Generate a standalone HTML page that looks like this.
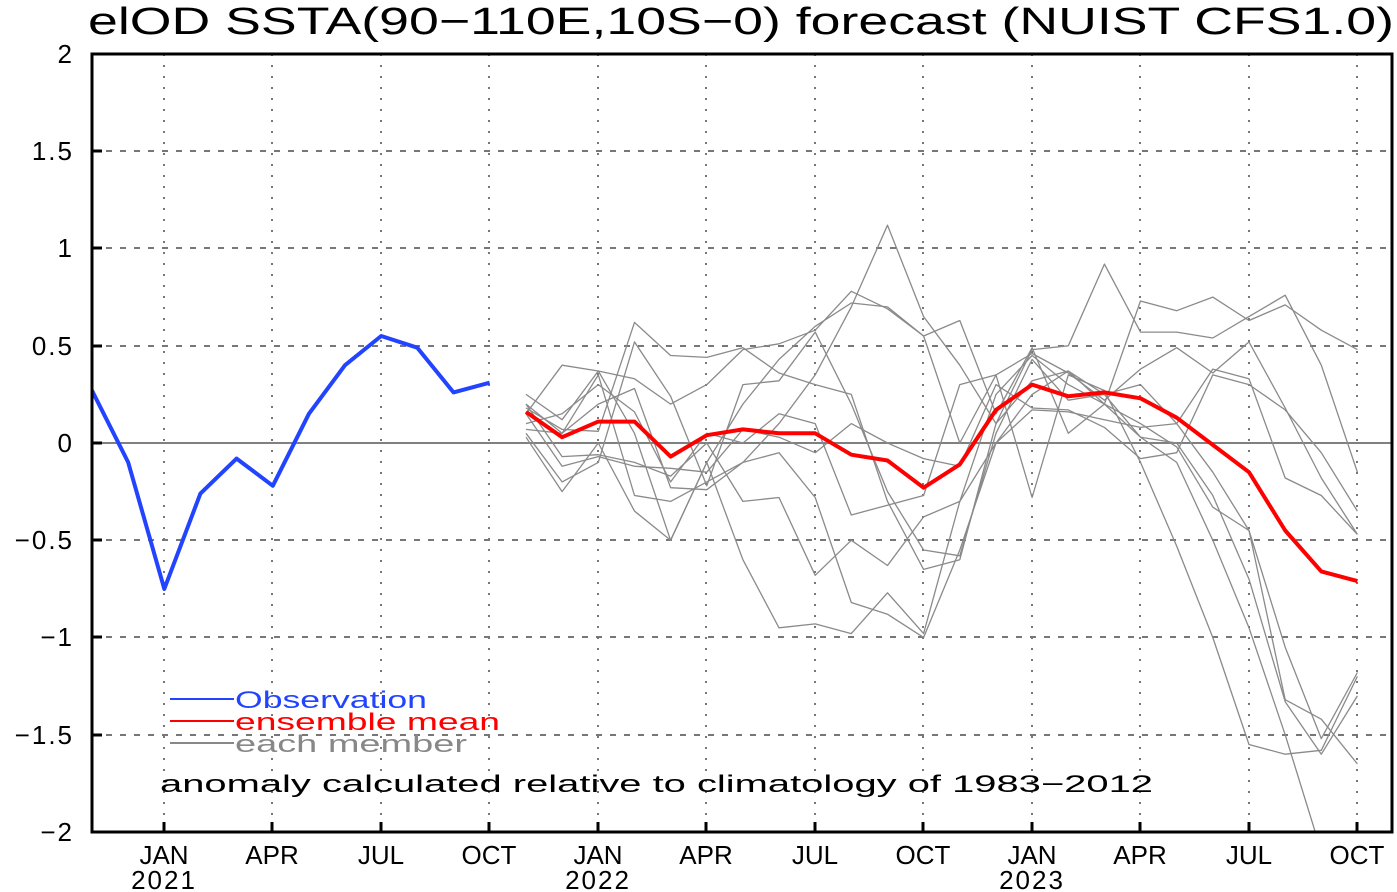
<!DOCTYPE html>
<html><head><style>body{margin:0;background:#fff}svg{display:block}</style></head><body>
<svg id="s" width="1397" height="892" xmlns="http://www.w3.org/2000/svg" font-family="Liberation Sans, sans-serif">
<rect width="1397" height="892" fill="#fff"/>
<text x="88" y="34" font-size="38" textLength="1306" lengthAdjust="spacingAndGlyphs">elOD SSTA(90−110E,10S−0) forecast (NUIST CFS1.0)</text>
<g stroke="#777" stroke-width="2" stroke-dasharray="6,8">
<line x1="92" x2="1392" y1="151" y2="151"/><line x1="92" x2="1392" y1="248" y2="248"/>
<line x1="92" x2="1392" y1="346" y2="346"/><line x1="92" x2="1392" y1="540" y2="540"/>
<line x1="92" x2="1392" y1="637" y2="637"/><line x1="92" x2="1392" y1="735" y2="735"/>
</g>
<g stroke="#777" stroke-width="2" stroke-dasharray="2,9">
<line x1="164" x2="164" y1="54" y2="832"/><line x1="272" x2="272" y1="54" y2="832"/>
<line x1="381" x2="381" y1="54" y2="832"/><line x1="489" x2="489" y1="54" y2="832"/>
<line x1="598" x2="598" y1="54" y2="832"/><line x1="706" x2="706" y1="54" y2="832"/>
<line x1="815" x2="815" y1="54" y2="832"/><line x1="923" x2="923" y1="54" y2="832"/>
<line x1="1032" x2="1032" y1="54" y2="832"/><line x1="1140" x2="1140" y1="54" y2="832"/>
<line x1="1249" x2="1249" y1="54" y2="832"/><line x1="1357" x2="1357" y1="54" y2="832"/>
</g>
<line x1="92" x2="1392" y1="443" y2="443" stroke="#808080" stroke-width="2"/>
<defs><clipPath id="c"><rect x="92" y="54" width="1300" height="778"/></clipPath></defs>
<g id="g" clip-path="url(#c)"></g>
<rect x="92" y="54" width="1300" height="778" fill="none" stroke="#000" stroke-width="3"/>
<g stroke="#000" stroke-width="3">
<line x1="164" x2="164" y1="832" y2="822"/><line x1="272" x2="272" y1="832" y2="822"/><line x1="381" x2="381" y1="832" y2="822"/><line x1="489" x2="489" y1="832" y2="822"/><line x1="598" x2="598" y1="832" y2="822"/><line x1="706" x2="706" y1="832" y2="822"/><line x1="815" x2="815" y1="832" y2="822"/><line x1="923" x2="923" y1="832" y2="822"/><line x1="1032" x2="1032" y1="832" y2="822"/><line x1="1140" x2="1140" y1="832" y2="822"/><line x1="1249" x2="1249" y1="832" y2="822"/><line x1="1357" x2="1357" y1="832" y2="822"/>
<line x1="92" x2="102" y1="151" y2="151"/><line x1="92" x2="102" y1="248" y2="248"/><line x1="92" x2="102" y1="346" y2="346"/><line x1="92" x2="102" y1="443" y2="443"/><line x1="92" x2="102" y1="540" y2="540"/><line x1="92" x2="102" y1="637" y2="637"/><line x1="92" x2="102" y1="735" y2="735"/>
</g>
<g font-size="26" text-anchor="end" letter-spacing="2">
<text x="74" y="63">2</text><text x="74" y="160">1.5</text><text x="74" y="257">1</text><text x="74" y="355">0.5</text><text x="74" y="452">0</text><text x="74" y="549">−0.5</text><text x="74" y="646">−1</text><text x="74" y="744">−1.5</text><text x="74" y="841">−2</text>
</g>
<g font-size="26" text-anchor="middle">
<text x="164" y="864">JAN</text><text x="272" y="864">APR</text><text x="381" y="864">JUL</text><text x="489" y="864">OCT</text>
<text x="598" y="864">JAN</text><text x="706" y="864">APR</text><text x="815" y="864">JUL</text><text x="923" y="864">OCT</text>
<text x="1032" y="864">JAN</text><text x="1140" y="864">APR</text><text x="1249" y="864">JUL</text><text x="1357" y="864">OCT</text>
<text x="164" y="889" letter-spacing="2">2021</text><text x="598" y="889" letter-spacing="2">2022</text><text x="1032" y="889" letter-spacing="2">2023</text>
</g>
<line x1="170" x2="234" y1="699" y2="699" stroke="#2244ff" stroke-width="2"/>
<line x1="170" x2="234" y1="721" y2="721" stroke="#f00" stroke-width="2"/>
<line x1="170" x2="234" y1="743" y2="743" stroke="#888" stroke-width="2"/>
<text x="235" y="708" font-size="24" fill="#2244ff" textLength="192" lengthAdjust="spacingAndGlyphs">Observation</text>
<text x="235" y="730" font-size="24" fill="#f00" textLength="265" lengthAdjust="spacingAndGlyphs">ensemble  mean</text>
<text x="235" y="752" font-size="24" fill="#888" textLength="232" lengthAdjust="spacingAndGlyphs">each  member</text>
<text x="160" y="792" font-size="24" textLength="993" lengthAdjust="spacingAndGlyphs">anomaly calculated relative to climatology of 1983−2012</text>
</svg>
<script>
var g=document.getElementById('g'),NS='http://www.w3.org/2000/svg';
function Y(v){return 443-v*194.5}
function pl(x0,vals,col,w){var p=vals.map(function(v,i){return (x0+36.15*i).toFixed(1)+','+Y(v).toFixed(1)}).join(' ');
var e=document.createElementNS(NS,'polyline');e.setAttribute('points',p);e.setAttribute('fill','none');e.setAttribute('stroke',col);e.setAttribute('stroke-width',w);e.setAttribute('stroke-linejoin','round');g.appendChild(e);}
var M=[
[0.2,0.05,0.35,-0.27,-0.3,-0.2,-0.1,0.1,0.35,0.7,1.12,0.65,0.4,0.1,0.48,0.5,0.92,0.57,0.57,0.54,0.65,0.76,0.4,-0.15],
[0.25,0.12,0.37,0.05,-0.5,-0.1,0.2,0.43,0.6,0.72,0.7,0.55,0.63,0.15,0.49,0.05,0.2,0.73,0.68,0.75,0.63,0.71,0.58,0.48],
[0.15,0.4,0.37,0.33,0.2,0.3,0.48,0.51,0.58,0.78,0.69,0.55,0.0,0.35,0.46,0.36,0.22,0.38,0.49,0.36,0.52,0.18,-0.18,-0.47],
[0.18,0.07,0.06,0.62,0.45,0.44,0.49,0.36,0.3,0.25,-0.3,-0.65,-0.6,0.1,0.32,0.37,0.2,0.1,-0.02,-0.33,-0.45,-1.05,-1.52,-1.18],
[0.05,-0.2,-0.1,0.52,0.24,-0.22,0.3,0.32,0.57,0.2,-0.25,-0.55,-0.58,0.05,0.43,0.22,0.25,0.3,0.1,0.38,0.33,-0.18,-0.27,-0.47],
[0.07,0.05,0.2,0.28,-0.23,-0.24,-0.1,-0.05,-0.28,-0.82,-0.88,-1.0,-0.55,0.0,0.17,0.16,0.12,0.08,0.1,-0.15,-0.45,-1.32,-1.42,-1.65],
[0.03,-0.25,0.0,-0.35,-0.5,-0.1,-0.6,-0.95,-0.93,-0.98,-0.77,-0.98,-0.3,0.25,0.45,0.3,0.2,0.03,-0.1,-0.5,-0.95,-1.5,-2.1,-2.3],
[0.2,-0.07,-0.06,-0.1,-0.17,0.0,-0.3,-0.28,-0.68,-0.5,-0.63,-0.38,-0.3,0.0,0.25,0.37,0.25,0.03,0.0,-0.27,-0.7,-1.33,-1.6,-1.3],
[0.15,-0.12,-0.07,-0.12,-0.13,-0.15,0.07,0.03,-0.05,0.1,0.0,-0.08,-0.12,0.3,0.18,0.17,0.08,-0.08,-0.05,0.35,0.3,0.17,-0.05,-0.35],
[0.1,0.15,0.3,0.16,-0.2,0.05,0.0,0.15,0.1,-0.37,-0.32,-0.27,0.3,0.35,-0.28,0.35,0.27,-0.1,-0.53,-1.0,-1.55,-1.6,-1.58,-1.2]];
M.forEach(function(m){pl(526,m,'#8a8a8a',1.3)});
pl(526,[0.16,0.03,0.11,0.11,-0.07,0.04,0.07,0.05,0.05,-0.06,-0.09,-0.23,-0.11,0.17,0.30,0.24,0.26,0.23,0.13,-0.01,-0.15,-0.45,-0.66,-0.71],'#f00',4);
pl(92,[0.27,-0.1,-0.75,-0.26,-0.08,-0.22,0.15,0.4,0.55,0.49,0.26,0.31],'#2244ff',4);
</script>
</body></html>
